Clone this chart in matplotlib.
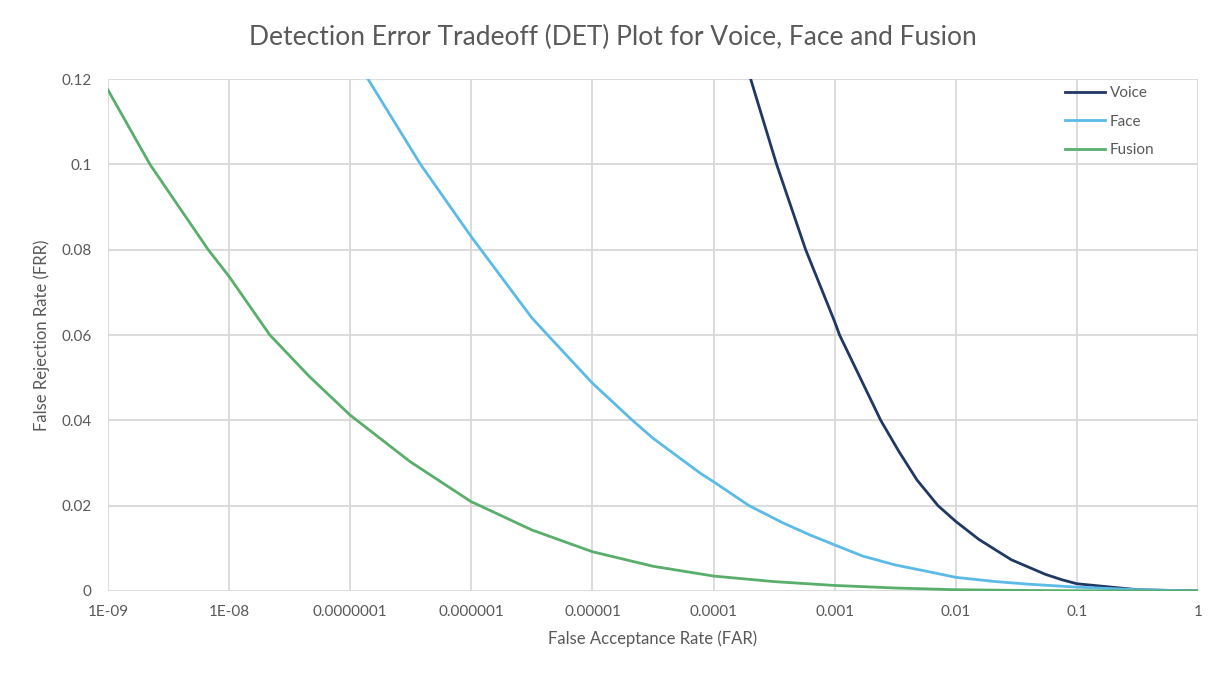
import numpy as np
import matplotlib.pyplot as plt

# log10(FAR) positions and FRR values
voice_logfar = [-3.694, -3.48, -3.24, -3.0, -2.96, -2.62, -2.47, -2.32, -2.147,
                -2.0, -1.81, -1.67, -1.54, -1.40, -1.26, -1.12, -1.0, -0.5, 0.0]
voice_frr = [0.12, 0.10, 0.08, 0.0631, 0.06, 0.04, 0.0327, 0.026, 0.02,
             0.0163, 0.0121, 0.0096, 0.0073, 0.0056, 0.0039, 0.0026, 0.0017,
             0.0003, 0.0]

face_logfar = [-6.854, -6.42, -6.0, -5.5, -5.37, -5.0, -4.67, -4.5, -4.11, -4.0,
               -3.707, -3.43, -3.21, -3.0, -2.77, -2.5, -2.22, -2.0, -1.67,
               -1.40, -1.0, -0.5, 0.0]
face_frr = [0.12, 0.10, 0.083, 0.064, 0.06, 0.0487, 0.04, 0.0358, 0.0276, 0.0256,
            0.02, 0.016, 0.0132, 0.0108, 0.0082, 0.0061, 0.0045, 0.0032, 0.0022,
            0.0016, 0.0009, 0.0003, 0.0]

fusion_logfar = [-9.0, -8.654, -8.173, -8.0, -7.664, -7.335, -7.0, -6.505, -6.0,
                 -5.93, -5.5, -5.0, -4.5, -4.0, -3.5, -3.0, -2.5, -2.0, -1.5,
                 -1.0, -0.5, 0.0]
fusion_frr = [0.1174, 0.10, 0.08, 0.0737, 0.06, 0.0502, 0.0412, 0.0303, 0.0209,
              0.02, 0.0143, 0.0092, 0.0058, 0.0035, 0.0022, 0.0013, 0.0007,
              0.0003, 0.00015, 0.00006, 0.00002, 0.0]

x_ticks = [1e-9, 1e-8, 1e-7, 1e-6, 1e-5, 1e-4, 1e-3, 1e-2, 1e-1, 1]
x_labels = ["1E-09", "1E-08", "0.0000001", "0.000001", "0.00001", "0.0001",
            "0.001", "0.01", "0.1", "1"]
y_ticks = [0, 0.02, 0.04, 0.06, 0.08, 0.1, 0.12]
y_labels = ["0", "0.02", "0.04", "0.06", "0.08", "0.1", "0.12"]

plt.rcParams["font.family"] = ["Lato", "DejaVu Sans"]
text_color = "#595959"

fig = plt.figure(figsize=(12.25, 6.83), dpi=100)
ax = fig.add_axes([0.0882, 0.1347, 0.8898, 0.7496])

ax.plot(10 ** np.array(voice_logfar), voice_frr, color="#1f3864", lw=2.0,
        label="Voice", solid_joinstyle="round")
ax.plot(10 ** np.array(face_logfar), face_frr, color="#5bbbe6", lw=2.0,
        label="Face", solid_joinstyle="round")
ax.plot(10 ** np.array(fusion_logfar), fusion_frr, color="#5aae6c", lw=2.0,
        label="Fusion", solid_joinstyle="round")

ax.set_xscale("log")
ax.set_xlim(1e-9, 1)
ax.set_ylim(0, 0.12)
ax.set_xticks(x_ticks)
ax.set_xticklabels(x_labels)
ax.xaxis.set_minor_locator(plt.NullLocator())
ax.set_yticks(y_ticks)
ax.set_yticklabels(y_labels)
ax.tick_params(axis="both", length=0, labelsize=11, colors=text_color, pad=12)
ax.tick_params(axis="x", pad=10)
ax.grid(True, color="#d9d9d9", lw=1.3)
ax.set_axisbelow(True)
for s in ax.spines.values():
    s.set_visible(False)

fig.text(0.5, 1 - 37 / 683, "Detection Error Tradeoff (DET) Plot for Voice, Face and Fusion",
         fontsize=19, color=text_color, ha="center", va="center")
ax.set_xlabel("False Acceptance Rate (FAR)", fontsize=12, color=text_color, labelpad=8)
ax.set_ylabel("False Rejection Rate (FRR)", fontsize=12, color=text_color, labelpad=8)

leg = ax.legend(loc="upper left", frameon=False, fontsize=11, handlelength=2.6,
                handletextpad=0.35, labelspacing=0.95, borderpad=0, borderaxespad=0,
                bbox_to_anchor=(1065 / 1225, 1 - 86 / 683),
                bbox_transform=fig.transFigure)
for t in leg.get_texts():
    t.set_color(text_color)

fig.savefig("out.png", dpi=100)
